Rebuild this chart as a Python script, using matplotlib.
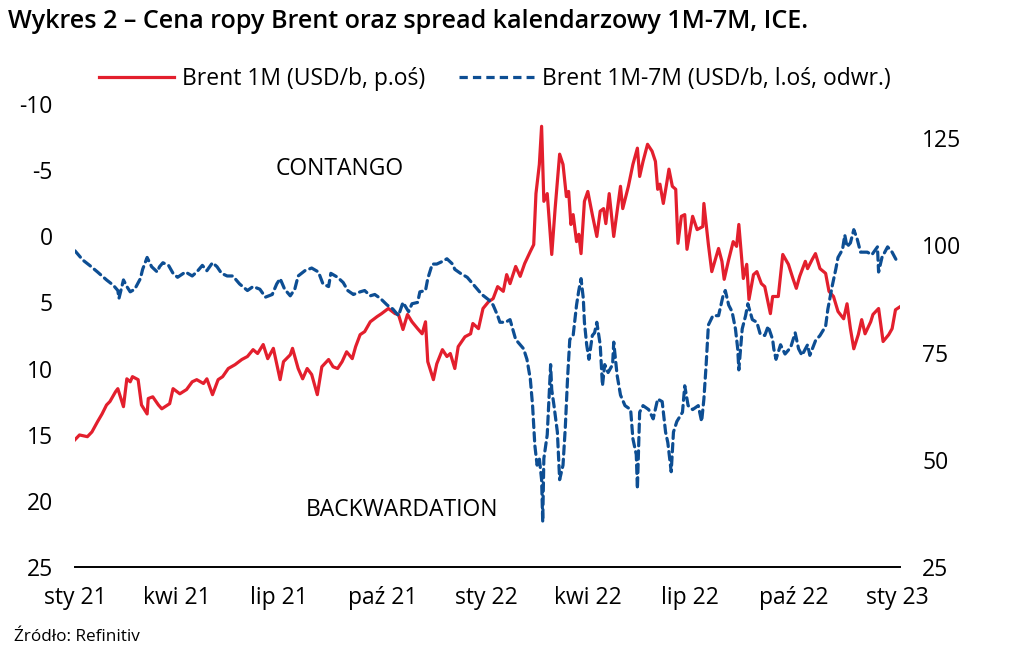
import matplotlib
matplotlib.use("Agg")
import matplotlib.pyplot as plt
import pandas as pd
from matplotlib.lines import Line2D

plt.rcParams['font.family'] = ['Open Sans', 'DejaVu Sans']

# ---------------- data ----------------
brent_dates = [
    "2021-01-18", "2021-01-22", "2021-01-29", "2021-02-02", "2021-02-07", "2021-02-11", "2021-02-15",
    "2021-02-18", "2021-02-23", "2021-02-25", "2021-03-02", "2021-03-05", "2021-03-08", "2021-03-10",
    "2021-03-15", "2021-03-18", "2021-03-23", "2021-03-24", "2021-03-28", "2021-04-02", "2021-04-05",
    "2021-04-12", "2021-04-15", "2021-04-21", "2021-04-27", "2021-05-02", "2021-05-06", "2021-05-12",
    "2021-05-15", "2021-05-20", "2021-05-25", "2021-05-29", "2021-06-03", "2021-06-09", "2021-06-15",
    "2021-06-20", "2021-06-25", "2021-06-29", "2021-07-04", "2021-07-08", "2021-07-13", "2021-07-19",
    "2021-07-22", "2021-07-28", "2021-07-30", "2021-08-04", "2021-08-08", "2021-08-12", "2021-08-16",
    "2021-08-21", "2021-08-25", "2021-08-31", "2021-09-04", "2021-09-08", "2021-09-12", "2021-09-16",
    "2021-09-21", "2021-09-24", "2021-09-28", "2021-10-02", "2021-10-07", "2021-10-13", "2021-10-17",
    "2021-10-23", "2021-10-29", "2021-11-01", "2021-11-05", "2021-11-09", "2021-11-13", "2021-11-18",
    "2021-11-22", "2021-11-25", "2021-11-27", "2021-12-02", "2021-12-05", "2021-12-10", "2021-12-14",
    "2021-12-17", "2021-12-21", "2021-12-24", "2021-12-30", "2022-01-04", "2022-01-06", "2022-01-11",
    "2022-01-15", "2022-01-20", "2022-01-24", "2022-01-28", "2022-02-02", "2022-02-05", "2022-02-08",
    "2022-02-13", "2022-02-17", "2022-02-21", "2022-02-26", "2022-03-01", "2022-03-03", "2022-03-06",
    "2022-03-08", "2022-03-10", "2022-03-13", "2022-03-17", "2022-03-20", "2022-03-22", "2022-03-24",
    "2022-03-27", "2022-03-30", "2022-04-01", "2022-04-03", "2022-04-05", "2022-04-08", "2022-04-10",
    "2022-04-12", "2022-04-15", "2022-04-18", "2022-04-22", "2022-04-26", "2022-04-29", "2022-05-02",
    "2022-05-04", "2022-05-07", "2022-05-11", "2022-05-14", "2022-05-17", "2022-05-19", "2022-05-24",
    "2022-05-28", "2022-06-01", "2022-06-03", "2022-06-06", "2022-06-10", "2022-06-14", "2022-06-17",
    "2022-06-19", "2022-06-21", "2022-06-24", "2022-06-27", "2022-06-29", "2022-07-02", "2022-07-05",
    "2022-07-07", "2022-07-10", "2022-07-13", "2022-07-15", "2022-07-20", "2022-07-24", "2022-07-29",
    "2022-07-30", "2022-08-03", "2022-08-06", "2022-08-12", "2022-08-15", "2022-08-17", "2022-08-21",
    "2022-08-25", "2022-08-28", "2022-08-30", "2022-09-03", "2022-09-06", "2022-09-08", "2022-09-12",
    "2022-09-15", "2022-09-19", "2022-09-22", "2022-09-27", "2022-09-29", "2022-10-04", "2022-10-08",
    "2022-10-13", "2022-10-17", "2022-10-20", "2022-10-23", "2022-10-28", "2022-10-30", "2022-11-03",
    "2022-11-06", "2022-11-10", "2022-11-15", "2022-11-18", "2022-11-22", "2022-11-26", "2022-12-01",
    "2022-12-04", "2022-12-07", "2022-12-10", "2022-12-14", "2022-12-17", "2022-12-20", "2022-12-25",
    "2022-12-27", "2023-01-01", "2023-01-05", "2023-01-10", "2023-01-13", "2023-01-16", "2023-01-20",
]
brent_1m = [
    54.7, 55.8, 55.4, 56.5, 58.9, 60.7, 62.8,
    63.6, 65.9, 66.6, 62.4, 68.9, 68.2, 69.4,
    68.7, 62.8, 60.7, 64.3, 64.7, 62.8, 61.9,
    63.1, 66.6, 65.4, 66.4, 68.2, 68.7, 67.8,
    68.9, 65.2, 68.7, 69.4, 71.3, 72.2, 73.4,
    74.1, 75.7, 74.8, 76.9, 73.6, 76.0, 68.7,
    72.9, 74.5, 76.0, 71.3, 68.9, 71.3, 69.9,
    65.2, 71.7, 73.4, 71.7, 71.3, 72.9, 75.2,
    73.6, 76.4, 79.2, 79.9, 82.2, 83.4, 84.1,
    85.3, 84.1, 83.9, 80.4, 83.9, 82.2, 80.6,
    79.4, 82.2, 72.9, 68.7, 72.4, 75.7, 74.1,
    74.8, 71.3, 76.4, 78.7, 79.4, 81.8, 80.6,
    85.3, 86.9, 87.6, 90.4, 89.3, 93.2, 91.1,
    95.1, 92.8, 95.8, 98.6, 100.2, 112.1, 118.9,
    127.8, 110.3, 112.1, 97.9, 108.6, 114.9, 121.3,
    118.9, 111.4, 112.6, 104.9, 107.2, 100.9, 102.6,
    98.1, 110.3, 112.6, 107.2, 102.1, 108.0, 108.6,
    105.1, 112.1, 102.1, 108.0, 113.8, 108.6, 113.8,
    118.9, 122.7, 116.1, 119.6, 123.6, 122.0, 119.6,
    113.1, 114.3, 109.8, 114.5, 117.8, 113.8, 113.1,
    100.5, 106.8, 107.2, 99.1, 106.8, 103.7, 104.4,
    109.8, 100.2, 93.9, 99.3, 96.3, 92.1, 96.7,
    100.9, 99.8, 104.9, 92.3, 95.6, 87.4, 93.2,
    93.9, 91.1, 90.4, 84.1, 88.1, 88.1, 97.9,
    95.6, 92.3, 90.0, 92.8, 96.3, 94.6, 96.7,
    98.1, 94.6, 93.5, 89.3, 88.1, 84.6, 82.9,
    86.4, 80.6, 75.9, 79.2, 82.7, 79.4, 82.2,
    83.9, 85.3, 77.6, 79.2, 80.6, 85.0, 85.7,
]

spread_dates = [
    "2021-01-18", "2021-01-25", "2021-01-31", "2021-02-07", "2021-02-15", "2021-02-21", "2021-02-25",
    "2021-02-26", "2021-03-02", "2021-03-05", "2021-03-08", "2021-03-12", "2021-03-17", "2021-03-19",
    "2021-03-23", "2021-03-27", "2021-04-01", "2021-04-03", "2021-04-06", "2021-04-11", "2021-04-15",
    "2021-04-19", "2021-04-26", "2021-05-02", "2021-05-06", "2021-05-11", "2021-05-15", "2021-05-20",
    "2021-05-24", "2021-05-28", "2021-06-02", "2021-06-07", "2021-06-13", "2021-06-20", "2021-06-25",
    "2021-07-01", "2021-07-06", "2021-07-12", "2021-07-16", "2021-07-19", "2021-07-23", "2021-07-28",
    "2021-08-01", "2021-08-04", "2021-08-10", "2021-08-16", "2021-08-22", "2021-08-26", "2021-08-31",
    "2021-09-02", "2021-09-08", "2021-09-13", "2021-09-17", "2021-09-22", "2021-09-28", "2021-10-02",
    "2021-10-07", "2021-10-11", "2021-10-16", "2021-10-22", "2021-10-27", "2021-11-01", "2021-11-05",
    "2021-11-10", "2021-11-13", "2021-11-18", "2021-11-20", "2021-11-25", "2021-11-27", "2021-12-01",
    "2021-12-05", "2021-12-10", "2021-12-14", "2021-12-19", "2021-12-21", "2021-12-26", "2022-01-01",
    "2022-01-05", "2022-01-10", "2022-01-14", "2022-01-20", "2022-01-24", "2022-01-28", "2022-01-30",
    "2022-02-04", "2022-02-08", "2022-02-13", "2022-02-17", "2022-02-20", "2022-02-23", "2022-02-26",
    "2022-02-28", "2022-03-02", "2022-03-04", "2022-03-06", "2022-03-08", "2022-03-09", "2022-03-10",
    "2022-03-13", "2022-03-16", "2022-03-17", "2022-03-19", "2022-03-22", "2022-03-24", "2022-03-27",
    "2022-03-29", "2022-03-31", "2022-04-02", "2022-04-05", "2022-04-08", "2022-04-10", "2022-04-12",
    "2022-04-14", "2022-04-15", "2022-04-17", "2022-04-19", "2022-04-22", "2022-04-24", "2022-04-26",
    "2022-04-29", "2022-05-01", "2022-05-03", "2022-05-06", "2022-05-10", "2022-05-11", "2022-05-14",
    "2022-05-17", "2022-05-21", "2022-05-26", "2022-05-28", "2022-05-31", "2022-06-01", "2022-06-03",
    "2022-06-06", "2022-06-11", "2022-06-15", "2022-06-19", "2022-06-23", "2022-06-26", "2022-06-28",
    "2022-07-01", "2022-07-03", "2022-07-06", "2022-07-11", "2022-07-13", "2022-07-16", "2022-07-20",
    "2022-07-25", "2022-07-28", "2022-07-30", "2022-08-01", "2022-08-03", "2022-08-07", "2022-08-12",
    "2022-08-16", "2022-08-18", "2022-08-21", "2022-08-24", "2022-08-27", "2022-08-29", "2022-08-30",
    "2022-09-02", "2022-09-05", "2022-09-07", "2022-09-11", "2022-09-15", "2022-09-18", "2022-09-22",
    "2022-09-25", "2022-09-29", "2022-09-30", "2022-10-02", "2022-10-06", "2022-10-10", "2022-10-15",
    "2022-10-19", "2022-10-22", "2022-10-25", "2022-10-30", "2022-11-01", "2022-11-06", "2022-11-10",
    "2022-11-15", "2022-11-17", "2022-11-21", "2022-11-24", "2022-11-26", "2022-11-30", "2022-12-02",
    "2022-12-04", "2022-12-07", "2022-12-10", "2022-12-13", "2022-12-16", "2022-12-22", "2022-12-26",
    "2022-12-31", "2023-01-01", "2023-01-04", "2023-01-09", "2023-01-13", "2023-01-18",
]
spread_1m_7m = [
    1.1, 1.8, 2.2, 2.7, 3.3, 3.7, 4.1,
    4.7, 3.3, 3.8, 4.2, 4.0, 3.2, 2.5,
    1.6, 2.3, 2.7, 2.3, 2.0, 2.2, 2.8,
    3.1, 2.7, 3.0, 2.7, 2.2, 2.6, 2.0,
    2.3, 2.8, 3.0, 3.0, 3.6, 4.1, 3.8,
    4.0, 4.6, 4.4, 3.6, 3.2, 4.0, 4.5,
    4.0, 3.0, 2.6, 2.4, 2.7, 3.6, 3.8,
    2.8, 3.1, 3.5, 4.1, 4.4, 4.2, 4.1,
    4.5, 4.4, 4.7, 5.2, 5.5, 6.0, 5.0,
    5.7, 5.1, 5.0, 4.2, 4.1, 3.2, 2.1,
    2.1, 1.9, 1.7, 2.1, 2.5, 2.8, 3.1,
    3.5, 4.0, 4.4, 4.8, 5.2, 6.0, 6.5,
    6.5, 6.3, 7.8, 8.2, 8.5, 9.3, 10.8,
    12.8, 15.8, 17.3, 16.8, 18.4, 21.6, 16.8,
    15.0, 9.7, 11.6, 12.8, 14.8, 18.4, 17.3,
    14.5, 10.8, 7.8, 7.5, 5.2, 4.1, 3.2,
    4.7, 6.5, 8.2, 9.3, 7.5, 7.3, 6.5,
    8.2, 11.3, 9.7, 10.3, 9.7, 8.0, 10.5,
    12.0, 12.8, 13.1, 15.3, 16.5, 19.1, 13.3,
    12.8, 13.1, 13.8, 12.3, 12.5, 14.8, 15.6,
    17.8, 14.8, 14.0, 13.3, 11.3, 12.8, 13.1,
    12.8, 14.0, 12.3, 9.7, 6.7, 6.0, 6.0,
    4.5, 4.1, 5.2, 5.7, 7.0, 8.5, 10.1,
    7.0, 6.0, 5.1, 6.3, 6.5, 7.4, 7.5,
    6.8, 7.8, 8.5, 9.3, 8.2, 8.9, 8.4,
    7.3, 8.5, 9.0, 8.2, 9.0, 7.9, 7.5,
    6.8, 5.5, 3.7, 2.5, 1.6, 1.0, -0.1,
    0.8, 0.5, -0.5, 0.2, 1.2, 1.2, 1.4,
    0.8, 2.7, 1.6, 0.8, 1.2, 2.0,
]

tick_dates = ["2021-01-18", "2021-04-18", "2021-07-18", "2021-10-18", "2022-01-18",
              "2022-04-18", "2022-07-18", "2022-10-18", "2023-01-18"]
tick_labels = ["sty 21", "kwi 21", "lip 21", "paź 21", "sty 22",
               "kwi 22", "lip 22", "paź 22", "sty 23"]
left_ticks = [-10, -5, 0, 5, 10, 15, 20, 25]
right_ticks = [25, 50, 75, 100, 125]

title = "Wykres 2 – Cena ropy Brent oraz spread kalendarzowy 1M-7M, ICE."
label_brent = "Brent 1M (USD/b, p.oś)"
label_spread = "Brent 1M-7M (USD/b, l.oś, odwr.)"
source = "Źródło: Refinitiv"

# ---------------- plot ----------------
RED = "#E31F2D"
BLUE = "#0D4E93"
FS = 16.5

W, H = 1021, 655
fig = plt.figure(figsize=(W / 100, H / 100), dpi=100)
left, right_px, top_px, bottom_px = 75, 900, 104, 567
ax_r = fig.add_axes([left / W, 1 - bottom_px / H, (right_px - left) / W, (bottom_px - top_px) / H])
ax_l = ax_r.twinx()

bd = pd.to_datetime(brent_dates)
sd = pd.to_datetime(spread_dates)

ax_r.plot(bd, brent_1m, color=RED, lw=2.3, solid_joinstyle='round')
ax_l.plot(sd, spread_1m_7m, color=BLUE, lw=2.3, linestyle=(0, (2.6, 1.6)), dash_capstyle='round')

ax_r.set_ylim(25, 133)
ax_l.set_ylim(25, -10)
ax_r.set_xlim(pd.Timestamp("2021-01-18"), pd.Timestamp("2023-01-20"))

ax_r.yaxis.tick_right()
ax_l.yaxis.tick_left()
ax_r.set_yticks(right_ticks)
ax_l.set_yticks(left_ticks)
ax_r.set_yticklabels([str(t) for t in right_ticks])
ax_l.set_yticklabels([str(t) for t in left_ticks])

ax_r.set_xticks(pd.to_datetime(tick_dates))
ax_r.set_xticklabels(tick_labels)

for a in (ax_r, ax_l):
    for s in a.spines.values():
        s.set_visible(False)
    a.tick_params(length=0, labelsize=FS, colors="black")
    a.patch.set_visible(False)
ax_r.spines['bottom'].set_visible(True)
ax_r.spines['bottom'].set_linewidth(1.4)
ax_r.spines['bottom'].set_color("black")
ax_r.tick_params(axis='x', pad=14)
ax_r.tick_params(axis='y', pad=16)
ax_l.tick_params(axis='y', pad=16)

ax_l.text(pd.Timestamp("2021-09-10"), -5.1, "CONTANGO", fontsize=FS, ha='center', va='center')
ax_l.text(pd.Timestamp("2021-11-04"), 20.7, "BACKWARDATION", fontsize=FS, ha='center', va='center')

fig.text(8 / W, 1 - 22 / H, title, fontsize=18.1, fontweight='semibold', ha='left', va='center')
fig.text(14 / W, 1 - 637 / H, source, fontsize=12.3, ha='left', va='center')

handles = [Line2D([], [], color=RED, lw=2.3),
           Line2D([], [], color=BLUE, lw=2.3, linestyle=(0, (2.6, 1.6)))]
fig.legend(handles, [label_brent, label_spread], loc='center', ncol=2,
           bbox_to_anchor=(495 / W, 1 - 79 / H), frameon=False, fontsize=FS,
           handlelength=3.25, handletextpad=0.35, columnspacing=1.5)

fig.savefig("out.png", dpi=100)
